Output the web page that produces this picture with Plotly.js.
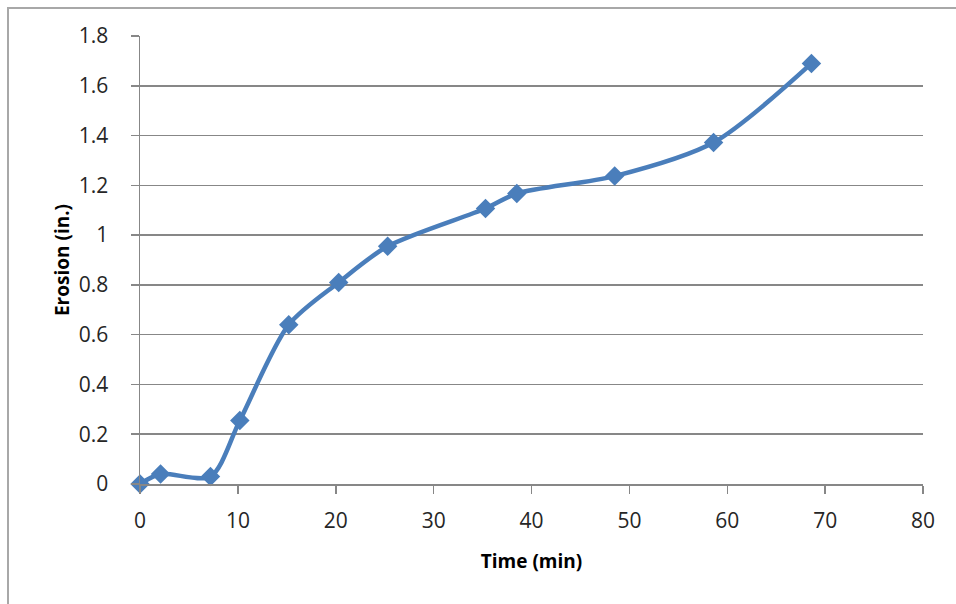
<!DOCTYPE html>
<html>
<head>
<meta charset="utf-8">
<script src="https://cdn.plot.ly/plotly-3.0.1.min.js"></script>
<style>
  html, body { margin: 0; padding: 0; background: #ffffff; }
  #wrap { position: relative; width: 956px; height: 604px; overflow: hidden; }
  #chart { width: 956px; height: 604px; }
  #frame { position: absolute; left: 7px; top: 7px; width: 980px; height: 640px;
           border-left: 2px solid #a8a8a8; border-top: 2px solid #a8a8a8; pointer-events: none; }
</style>
</head>
<body>
<div id="wrap">
  <div id="chart"></div>
  <div id="frame"></div>
</div>
<script>
const timeMin = [0, 2.1, 7.2, 10.2, 15.2, 20.3, 25.3, 35.3, 38.5, 48.5, 58.6, 68.6];
const erosionIn = [0, 0.04, 0.03, 0.255, 0.64, 0.81, 0.955, 1.107, 1.167, 1.237, 1.372, 1.69];
const xTicks = [0, 10, 20, 30, 40, 50, 60, 70, 80];
const yTicks = [0, 0.2, 0.4, 0.6, 0.8, 1, 1.2, 1.4, 1.6, 1.8];
const yTickText = ['0', '0.2', '0.4', '0.6', '0.8', '1', '1.2', '1.4', '1.6', '1.8'];

const trace = {
  x: timeMin,
  y: erosionIn,
  type: 'scatter',
  mode: 'lines+markers',
  line: { color: '#4A7EBB', width: 4.5, shape: 'spline', smoothing: 0.8 },
  marker: { symbol: 'diamond', size: 15, color: '#4A7EBB' },
  cliponaxis: false,
  showlegend: false
};

const tickFont = { family: 'Open Sans, Liberation Sans, sans-serif', size: 21, color: '#262626' };
const titleFont = { family: 'Open Sans, Liberation Sans, sans-serif', size: 19, color: '#000000', weight: 'bold' };

const layout = {
  width: 956,
  height: 604,
  margin: { l: 140, r: 33, t: 36, b: 120 },
  paper_bgcolor: '#ffffff',
  plot_bgcolor: '#ffffff',
  xaxis: {
    range: [0, 80],
    tickvals: xTicks,
    ticktext: xTicks.map(String),
    showgrid: false,
    zeroline: false,
    showline: true,
    linecolor: '#878787',
    linewidth: 1.5,
    ticks: 'outside',
    ticklen: 8,
    tickwidth: 1.5,
    tickcolor: '#878787',
    tickfont: tickFont,
    ticklabelstandoff: 9,
    automargin: false,
    title: { text: 'Time (min)', font: titleFont, standoff: 22 }
  },
  yaxis: {
    range: [0, 1.8],
    tickvals: yTicks,
    ticktext: yTickText,
    showgrid: true,
    gridcolor: '#878787',
    gridwidth: 1.5,
    zeroline: false,
    showline: true,
    linecolor: '#878787',
    linewidth: 1.5,
    ticks: 'outside',
    ticklen: 8,
    tickwidth: 1.5,
    tickcolor: '#878787',
    tickfont: tickFont,
    ticklabelstandoff: 18,
    automargin: false,
    title: { text: 'Erosion (in.)', font: titleFont, standoff: 4 }
  }
};

Plotly.newPlot('chart', [trace], layout, { displayModeBar: false, staticPlot: true });
</script>
</body>
</html>
